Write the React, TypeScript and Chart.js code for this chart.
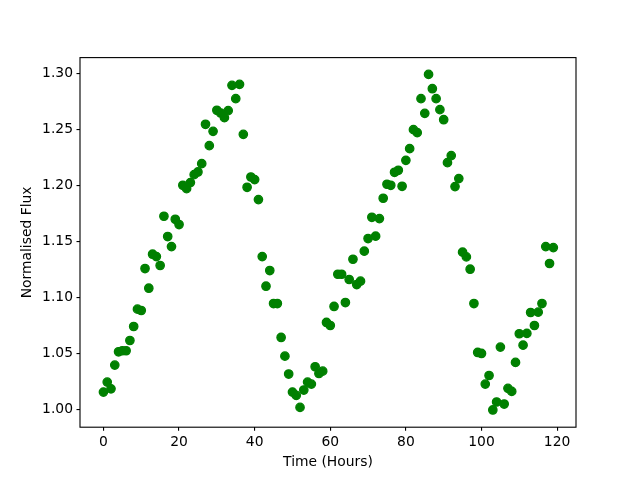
import React, { useEffect, useRef } from "react";
import { Chart, registerables } from "chart.js";

Chart.register(...registerables);

const hours: number[] = [
  0, 1, 2, 3, 4, 5, 6, 7, 8, 9, 10, 11, 12, 13, 14, 15, 16, 17, 18, 19,
  20, 21, 22, 23, 24, 25, 26, 27, 28, 29, 30, 31, 32, 33, 34, 35, 36, 37, 38, 39,
  40, 41, 42, 43, 44, 45, 46, 47, 48, 49, 50, 51, 52, 53, 54, 55, 56, 57, 58, 59,
  60, 61, 62, 63, 64, 65, 66, 67, 68, 69, 70, 71, 72, 73, 74, 75, 76, 77, 78, 79,
  80, 81, 82, 83, 84, 85, 86, 87, 88, 89, 90, 91, 92, 93, 94, 95, 96, 97, 98, 99,
  100, 101, 102, 103, 104, 105, 106, 107, 108, 109, 110, 111, 112, 113, 114, 115, 116, 117, 118, 119,
];

const flux: number[] = [
  1.0152, 1.0241, 1.0181, 1.0393, 1.0512, 1.0521, 1.0521, 1.0613, 1.0738, 1.0893,
  1.0881, 1.1256, 1.108, 1.1384, 1.1363, 1.1283, 1.1723, 1.1542, 1.1452, 1.1696,
  1.1649, 1.2, 1.197, 1.2024, 1.2095, 1.2119, 1.2193, 1.2545, 1.2354, 1.2482,
  1.267, 1.2646, 1.2604, 1.2667, 1.2893, 1.2774, 1.2902, 1.2455, 1.1982, 1.2074,
  1.2051, 1.1872, 1.1363, 1.1098, 1.1238, 1.0943, 1.0943, 1.064, 1.0473, 1.0313,
  1.0152, 1.0122, 1.0015, 1.017, 1.0241, 1.0223, 1.0378, 1.0318, 1.0339, 1.0774,
  1.0747, 1.0917, 1.1205, 1.1205, 1.0952, 1.1158, 1.1339, 1.1113, 1.1143, 1.1411,
  1.1524, 1.1714, 1.1545, 1.1702, 1.1884, 1.2009, 1.2, 1.2116, 1.2134, 1.1991,
  1.2223, 1.2327, 1.2497, 1.247, 1.2774, 1.2643, 1.2991, 1.2863, 1.2774, 1.2676,
  1.2586, 1.2202, 1.2265, 1.1988, 1.206, 1.1402, 1.136, 1.125, 1.0943, 1.0506,
  1.0497, 1.0223, 1.03, 0.9992, 1.0063, 1.0554, 1.0045, 1.0185, 1.0158, 1.0417,
  1.0673, 1.0571, 1.0676, 1.0863, 1.0747, 1.0866, 1.0943, 1.1452, 1.1301, 1.1443,
];

const xTicks: number[] = [0, 20, 40, 60, 80, 100, 120];
const yTicks: number[] = [1.0, 1.05, 1.1, 1.15, 1.2, 1.25, 1.3];

const FONT = "'DejaVu Sans', sans-serif";
const FS = 13.89;

const framePlugin = {
  id: "frame",
  afterDraw(chart: any) {
    const { ctx, chartArea } = chart;
    ctx.save();
    ctx.strokeStyle = "#000";
    ctx.lineWidth = 1.11;
    ctx.strokeRect(
      chartArea.left,
      chartArea.top,
      chartArea.right - chartArea.left,
      chartArea.bottom - chartArea.top
    );
    ctx.restore();
  },
};

export default function App() {
  const ref = useRef<HTMLCanvasElement | null>(null);

  useEffect(() => {
    if (!ref.current) return;
    const chart = new Chart(ref.current, {
      type: "scatter",
      data: {
        datasets: [
          {
            data: hours.map((h, i) => ({ x: h, y: flux[i] })),
            backgroundColor: "#008000",
            borderColor: "#008000",
            borderWidth: 1.3,
            pointRadius: 4.2,
            pointHoverRadius: 4.2,
            showLine: false,
          },
        ],
      },
      options: {
        responsive: false,
        animation: false,
        events: [],
        layout: { padding: { left: 0, top: 57.6, right: 64, bottom: 0 } },
        plugins: {
          legend: { display: false },
          tooltip: { enabled: false },
        },
        scales: {
          x: {
            type: "linear",
            min: -6.2,
            max: 125.0,
            afterBuildTicks: (s: any) => {
              s.ticks = xTicks.map((v) => ({ value: v }));
            },
            afterFit: (s: any) => {
              s.height = 52.8;
            },
            border: { display: false },
            grid: {
              drawOnChartArea: false,
              drawTicks: true,
              tickLength: 3.5,
              color: "#000",
              lineWidth: 1.11,
            },
            ticks: {
              autoSkip: false,
              maxRotation: 0,
              padding: 3.5,
              color: "#000",
              font: { family: FONT, size: FS },
              callback: (v: any) => String(v),
            },
            title: {
              display: true,
              text: "Time (Hours)",
              color: "#000",
              font: { family: FONT, size: FS },
              padding: { top: 0, bottom: 9.5 },
            },
          },
          y: {
            type: "linear",
            min: 0.9838,
            max: 1.3141,
            afterBuildTicks: (s: any) => {
              s.ticks = yTicks.map((v) => ({ value: v }));
            },
            afterFit: (s: any) => {
              s.width = 80;
            },
            border: { display: false },
            grid: {
              drawOnChartArea: false,
              drawTicks: true,
              tickLength: 3.5,
              color: "#000",
              lineWidth: 1.11,
            },
            ticks: {
              autoSkip: false,
              padding: 3.5,
              color: "#000",
              font: { family: FONT, size: FS },
              callback: (v: any) => Number(v).toFixed(2),
            },
            title: {
              display: true,
              text: "Normalised Flux",
              color: "#000",
              font: { family: FONT, size: FS },
              padding: { top: 19, bottom: 0 },
            },
          },
        },
      },
      plugins: [framePlugin],
    });
    return () => chart.destroy();
  }, []);

  return (
    <div
      style={{
        position: "absolute",
        left: 0,
        top: 0,
        width: 640,
        height: 480,
        background: "#fff",
      }}
    >
      <canvas ref={ref} width={640} height={480} style={{ width: 640, height: 480 }} />
    </div>
  );
}
